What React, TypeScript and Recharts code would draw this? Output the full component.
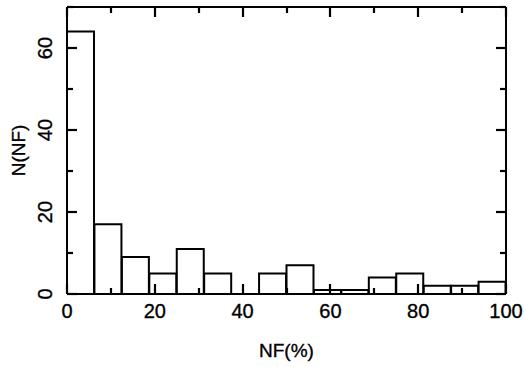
import React from 'react';
import { ComposedChart, Bar, XAxis, YAxis } from 'recharts';

// histogram of NF(%), 16 bins of 6.25 between 0 and 100
const binStarts = [0, 6.25, 12.5, 18.75, 25, 31.25, 37.5, 43.75, 50, 56.25, 62.5, 68.75, 75, 81.25, 87.5, 93.75];
const counts = [64, 17, 9, 5, 11, 5, 0, 5, 7, 1, 1, 4, 5, 2, 2, 3];

const xTicks = [0, 10, 20, 30, 40, 50, 60, 70, 80, 90, 100];
const yTicks = [0, 10, 20, 30, 40, 50, 60, 70];
const xLabelEvery = 20;
const yLabelEvery = 20;

const data = binStarts.map((start, i) => ({ bin: String(start), start, n: counts[i] }));

const FONT = '"Liberation Sans", Arial, Helvetica, sans-serif';
const MAJOR = 10;
const MINOR = 6;
const TICK_W = 2.2;
const textStyle = { fontFamily: FONT, fill: '#000', stroke: '#000', strokeWidth: 0.35 };

const BottomTick = ({ x, y, payload }: any) => {
  const major = payload.value % xLabelEvery === 0;
  const px = Math.round(x);
  return (
    <g>
      <line x1={px} y1={y} x2={px} y2={y - (major ? MAJOR : MINOR)} stroke="#000" strokeWidth={TICK_W} />
      {major && (
        <text x={x} y={y + 17} textAnchor="middle" dominantBaseline="central" fontSize={20} style={textStyle}>
          {payload.value}
        </text>
      )}
    </g>
  );
};

const TopTick = ({ x, y, payload }: any) => {
  const major = payload.value % xLabelEvery === 0;
  const px = Math.round(x);
  return <line x1={px} y1={y} x2={px} y2={y + (major ? MAJOR : MINOR)} stroke="#000" strokeWidth={TICK_W} />;
};

const LeftTick = ({ x, y, payload }: any) => {
  const major = payload.value % yLabelEvery === 0;
  const lx = x - 22;
  const py = Math.round(y);
  return (
    <g>
      <line x1={x} y1={py} x2={x + (major ? MAJOR : MINOR)} y2={py} stroke="#000" strokeWidth={TICK_W} />
      {major && payload.value < 70 && (
        <text x={lx} y={y} transform={`rotate(-90 ${lx} ${y})`} textAnchor="middle" dominantBaseline="central" fontSize={20} style={textStyle}>
          {payload.value}
        </text>
      )}
    </g>
  );
};

const RightTick = ({ x, y, payload }: any) => {
  const major = payload.value % yLabelEvery === 0;
  const py = Math.round(y);
  return <line x1={x} y1={py} x2={x - (major ? MAJOR : MINOR)} y2={py} stroke="#000" strokeWidth={TICK_W} />;
};

const XTitle = ({ viewBox }: any) => {
  const cx = viewBox.x + viewBox.width / 2;
  const cy = viewBox.y + 56;
  return (
    <text x={cx} y={cy} textAnchor="middle" dominantBaseline="central" fontSize={19} style={textStyle}>
      NF(%)
    </text>
  );
};

const YTitle = ({ viewBox }: any) => {
  const cx = viewBox.x + viewBox.width - 49;
  const cy = viewBox.y + viewBox.height / 2;
  return (
    <text x={cx} y={cy} transform={`rotate(-90 ${cx} ${cy})`} textAnchor="middle" dominantBaseline="central" fontSize={19} style={textStyle}>
      N(NF)
    </text>
  );
};

const axisLine = { stroke: '#000', strokeWidth: 2 };

export default function App() {
  return (
    <div style={{ position: 'absolute', left: 0, top: 0, background: '#fff' }}>
      <ComposedChart
        width={524}
        height={367}
        data={data}
        margin={{ top: 6, right: 17, bottom: 72, left: 66 }}
        barCategoryGap={0}
        barGap={0}
      >
        <XAxis xAxisId="bins" dataKey="bin" hide height={0} />
        <XAxis
          xAxisId="nf"
          dataKey="start"
          type="number"
          domain={[0, 100]}
          ticks={xTicks}
          interval={0}
          height={1}
          tickSize={0}
          tickMargin={0}
          tickLine={false}
          axisLine={axisLine}
          tick={<BottomTick />}
          label={<XTitle />}
          allowDataOverflow
        />
        <XAxis
          xAxisId="top"
          dataKey="start"
          orientation="top"
          type="number"
          domain={[0, 100]}
          ticks={xTicks}
          interval={0}
          height={1}
          tickSize={0}
          tickMargin={0}
          tickLine={false}
          axisLine={axisLine}
          tick={<TopTick />}
          allowDataOverflow
        />
        <YAxis
          yAxisId="left"
          type="number"
          domain={[0, 70]}
          ticks={yTicks}
          interval={0}
          width={1}
          tickSize={0}
          tickMargin={0}
          tickLine={false}
          axisLine={axisLine}
          tick={<LeftTick />}
          label={<YTitle />}
          allowDataOverflow
        />
        <YAxis
          yAxisId="right"
          dataKey="n"
          orientation="right"
          type="number"
          domain={[0, 70]}
          ticks={yTicks}
          interval={0}
          width={1}
          tickSize={0}
          tickMargin={0}
          tickLine={false}
          axisLine={axisLine}
          tick={<RightTick />}
          allowDataOverflow
        />
        <Bar
          xAxisId="bins"
          yAxisId="left"
          dataKey="n"
          fill="none"
          stroke="#000"
          strokeWidth={2}
          isAnimationActive={false}
        />
      </ComposedChart>
    </div>
  );
}
